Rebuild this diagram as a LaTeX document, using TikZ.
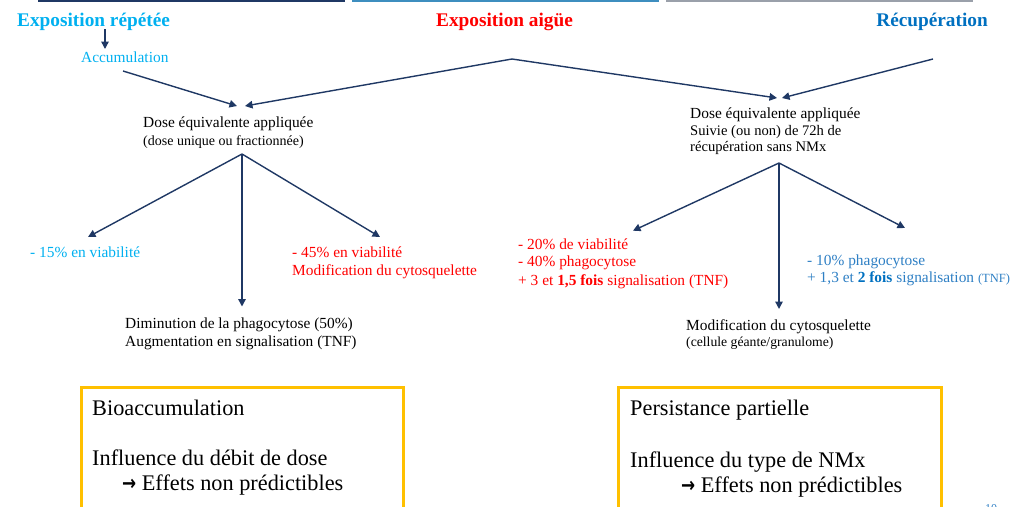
\documentclass[tikz,border=0pt]{standalone}
\usepackage{graphicx}
\usepackage{fontspec}
\setmainfont{Liberation Serif}
\newfontfamily\symfont{DejaVu Sans}
\usetikzlibrary{arrows.meta}
\definecolor{navy}{HTML}{1F3864}
\definecolor{cyanb}{HTML}{00B0F0}
\definecolor{redt}{HTML}{FF0000}
\definecolor{blueT}{HTML}{0070C0}
\definecolor{blueL}{HTML}{2E7FC4}
\definecolor{topblue}{HTML}{3E8EBF}
\definecolor{topgray}{HTML}{9AA0AA}
\definecolor{gold}{HTML}{FFC000}
\newcommand{\effarrow}{\raisebox{0.5pt}{\scalebox{0.8}[1]{\symfont\bfseries\fontsize{21}{21}\selectfont →}}}
\begin{document}
\begin{tikzpicture}[x=1pt,y=-1pt,
  conn/.style={draw=navy, line width=1.4pt, line join=round},
  arr/.style={conn, -{Triangle[length=7.5pt,width=7.5pt]}},
  txt/.style={inner sep=0pt, anchor=base west, font=\fontsize{15.4}{18}\selectfont},
  smalltxt/.style={txt, font=\fontsize{14}{17}\selectfont},
  title/.style={inner sep=0pt, anchor=base west, font=\fontsize{19.3}{22}\selectfont\bfseries},
  boxtxt/.style={inner sep=0pt, anchor=base west, font=\fontsize{22.3}{26}\selectfont},
  goldbox/.style={draw=gold, line width=3pt}
]
\useasboundingbox (0,0) rectangle (1014,506);
\clip (0,0) rectangle (1014,506);

% top rules
\draw[navy, line width=2pt] (38,1) -- (345,1);
\draw[topblue, line width=2pt] (352,1) -- (659,1);
\draw[topgray, line width=2pt] (666,1) -- (973,1);

% titles
\node[title, text=cyanb] (t1) at (17,26) {Exposition répétée};
\node[title, text=redt] (t2) at (436,26) {Exposition aigüe};
\node[title, text=blueT, anchor=base east] (t3) at (988,26) {Récupération};

\node[txt, text=cyanb] (acc) at (81,62) {Accumulation};
\coordinate (t1b) at (105,29);
\coordinate (accT) at (105,49);
\draw[arr] (t1b) -- (accT);

% chevron and arrows into dose nodes
\coordinate (apex) at (512,59);
\coordinate (lstart) at (123,71);
\coordinate (rstart) at (933,59);
\coordinate (dlA) at (237,106);
\coordinate (dlB) at (245,106);
\coordinate (drA) at (777,98);
\coordinate (drB) at (782,98);
\draw[arr] (lstart) -- (dlA);
\draw[arr] (apex) -- (dlB);
\draw[arr] (apex) -- (drA);
\draw[arr] (rstart) -- (drB);

% left dose
\node[txt] (dl1) at (143,127) {Dose équivalente appliquée};
\node[smalltxt] (dl2) at (143,145) {(dose unique ou fractionnée)};

% right dose
\node[txt] (dr1) at (690,118.3) {Dose équivalente appliquée};
\node[txt, font=\fontsize{14.6}{17}\selectfont] (dr2) at (690,135.2) {Suivie (ou non) de 72h de};
\node[txt, font=\fontsize{14.6}{17}\selectfont] (dr3) at (690,151.7) {récupération sans NMx};

% left branches
\coordinate (dlo) at (242,154);
\coordinate (lL) at (88,237);
\coordinate (lM) at (242,306.5);
\coordinate (lR) at (380,237);
\draw[arr] (dlo) -- (lL);
\draw[arr] (dlo) -- (lM);
\draw[arr] (dlo) -- (lR);

\node[txt, text=cyanb] (l15) at (30,257.7) {- 15\% en viabilité};
\node[txt, text=redt] (l45a) at (292,257.7) {- 45\% en viabilité};
\node[txt, text=redt] (l45b) at (292,275.7) {Modification du cytosquelette};
\node[txt] (lm1) at (125,328) {Diminution de la phagocytose (50\%)};
\node[txt] (lm2) at (125,346) {Augmentation en signalisation (TNF)};

% right branches
\coordinate (dro) at (779,163);
\coordinate (rL) at (633,230.7);
\coordinate (rM) at (779,309);
\coordinate (rR) at (905,228);
\draw[arr] (dro) -- (rL);
\draw[arr] (dro) -- (rM);
\draw[arr] (dro) -- (rR);

\node[txt, text=redt] (r1) at (518,249) {- 20\% de viabilité};
\node[txt, text=redt] (r2) at (518,266.8) {- 40\% phagocytose};
\node[txt, text=redt] (r3) at (518,285) {+ 3 et \textbf{1,5 fois} signalisation (TNF)};
\node[txt, text=blueL] (b1) at (807,265) {- 10\% phagocytose};
\node[txt, text=blueL] (b2) at (807,282.7) {+ 1,3 et \textbf{\color{blueT}2 fois} signalisation {\fontsize{12.5}{14}\selectfont(TNF)}};
\node[txt] (rm1) at (686,330) {Modification du cytosquelette};
\node[txt, font=\fontsize{13.7}{16}\selectfont] (rm2) at (686,346.7) {(cellule géante/granulome)};

% bottom boxes
\draw[goldbox] (81,387) rectangle (403,520);
\node[boxtxt] (bx1) at (92,415.5) {Bioaccumulation};
\node[boxtxt] (bx2) at (92,465) {Influence du débit de dose};
\node[boxtxt] (bx3) at (122,490.7) {\effarrow{} Effets non prédictibles};

\draw[goldbox] (618,387) rectangle (941,520);
\node[boxtxt] (by1) at (630,415) {Persistance partielle};
\node[boxtxt] (by2) at (630,467) {Influence du type de NMx};
\node[boxtxt] (by3) at (681,492.5) {\effarrow{} Effets non prédictibles};

% page number (cut off, as in the reference)
\node[inner sep=0pt, anchor=base west, text=blueL, font=\fontsize{12}{14}\selectfont] (pg) at (985,512) {10};
\end{tikzpicture}
\end{document}
